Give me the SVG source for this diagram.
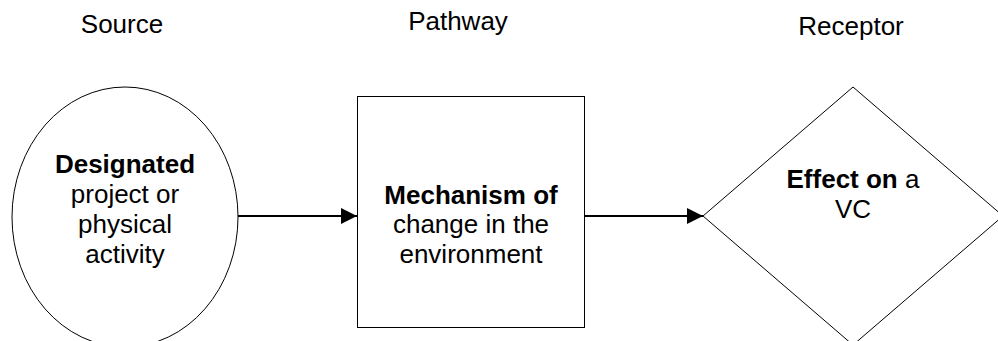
<svg xmlns="http://www.w3.org/2000/svg" width="998" height="341" viewBox="0 0 998 341">
<style>
text{font-family:"Liberation Sans",Arial,sans-serif;font-size:26px;fill:#000;text-anchor:middle}
.b{font-weight:bold}
.shape{fill:#fff;stroke:#000;stroke-width:1}
.conn{stroke:#000;stroke-width:2;fill:none}
</style>
<defs>
<marker id="arr" markerUnits="userSpaceOnUse" markerWidth="17" markerHeight="16" refX="16" refY="8" orient="auto">
<path d="M0,0 L16,8 L0,16 Z" fill="#000"/>
</marker>
</defs>
<rect width="998" height="341" fill="#fff"/>
<g id="headers">
<text x="122" y="33">Source</text>
<text x="458" y="30">Pathway</text>
<text x="851" y="35">Receptor</text>
</g>
<g id="connectors">
<line class="conn" x1="238" y1="216" x2="357" y2="216" marker-end="url(#arr)"/>
<line class="conn" x1="584" y1="216" x2="703" y2="216" marker-end="url(#arr)"/>
</g>
<g id="source">
<ellipse class="shape" cx="125" cy="217" rx="113" ry="130"/>
<text x="125" y="173" class="b">Designated</text>
<text x="125" y="203">project or</text>
<text x="125" y="233">physical</text>
<text x="125" y="263">activity</text>
</g>
<g id="pathway">
<rect class="shape" x="357.5" y="96.5" width="227" height="231"/>
<text x="471" y="204" class="b">Mechanism of</text>
<text x="471" y="233">change in the</text>
<text x="471" y="263">environment</text>
</g>
<g id="receptor">
<polygon class="shape" points="853,87 1003,216 853,345 703,216"/>
<text x="853" y="188"><tspan class="b">Effect on</tspan> a</text>
<text x="853" y="218">VC</text>
</g>
</svg>
